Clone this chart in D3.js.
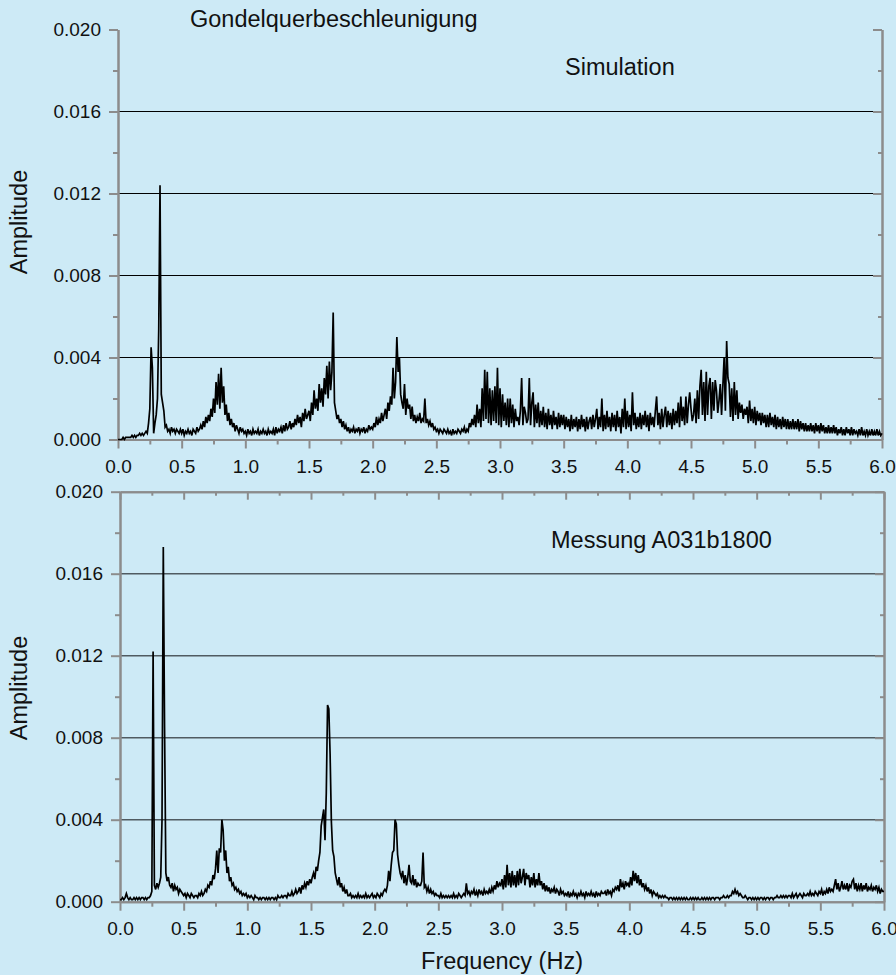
<!DOCTYPE html>
<html>
<head>
<meta charset="utf-8">
<script src="https://cdn.jsdelivr.net/npm/d3@7"></script>
<style>
  body { margin: 0; background: #cdeaf6; }
  svg { display: block; font-family: "Liberation Sans", Arial, sans-serif; }
</style>
</head>
<body>
<svg id="chart"></svg>
<script>
const width = 896;
const height = 975;

// spectra, amplitude in units of 1e-4, one value every 0.01 Hz from 0.00 to 6.00 Hz
const AMP_UNIT = 1e-4;
const freqStep = 0.01;

const simAmp = [
  0,0,0,0,1,0,1,1,1,1,
  1,2,1,2,1,2,2,3,2,3,
  2,3,4,3,8,15,45,35,3,8,
  12,20,54,124,22,18,14,6,7,4,
  5,3,6,4,5,3,5,4,3,5,
  3,5,2,4,3,5,3,4,2,5,
  4,3,6,4,5,7,5,9,6,11,
  8,12,9,15,11,20,13,28,17,32,
  15,35,18,26,12,17,9,13,7,10,
  6,8,4,7,5,3,6,4,5,3,
  4,2,5,3,4,2,5,3,4,3,
  5,2,4,3,5,3,4,2,5,3,
  4,3,5,2,6,3,5,4,6,3,
  7,4,8,5,6,9,5,8,6,10,
  7,12,8,11,6,13,9,15,10,12,
  14,9,18,12,24,15,20,14,27,18,
  25,16,30,22,36,20,38,24,33,62,
  18,14,10,12,8,10,6,9,5,7,
  4,6,3,5,4,6,3,5,4,6,
  3,5,4,6,3,5,4,7,5,6,
  5,8,6,11,7,10,8,13,9,12,
  15,10,18,14,21,17,35,20,28,50,
  33,40,22,18,15,27,12,20,15,17,
  10,16,9,12,8,11,9,13,8,10,
  9,20,8,10,7,9,6,8,5,6,
  4,5,3,5,4,3,5,4,3,5,
  3,4,2,5,3,4,3,5,4,3,
  5,4,6,3,5,4,8,6,10,7,
  12,6,17,8,15,6,25,9,34,10,
  33,8,25,7,24,9,26,8,35,7,
  25,6,22,9,18,7,20,6,20,8,
  17,6,15,9,11,7,14,30,7,16,
  13,8,10,30,7,18,23,6,17,8,
  18,6,14,7,16,6,13,5,15,7,
  12,5,14,7,11,5,13,6,12,7,
  12,5,11,6,10,4,12,5,10,6,
  11,4,10,5,12,6,10,4,11,5,
  9,11,5,12,6,10,15,5,11,6,
  20,4,12,5,14,6,11,4,13,6,
  12,4,14,6,11,3,15,6,20,5,
  14,6,12,4,23,7,13,5,11,6,
  13,5,12,7,14,6,12,4,13,7,
  11,6,14,21,7,13,5,15,6,12,
  16,6,14,7,13,5,15,7,14,8,
  18,6,21,9,16,7,21,8,17,23,
  15,9,12,20,8,24,10,26,34,12,
  28,9,33,12,26,30,10,28,14,29,
  24,13,19,27,12,26,40,14,48,30,
  27,11,25,9,28,12,24,10,18,13,
  17,10,15,12,16,8,19,9,15,8,
  16,7,14,9,13,7,13,8,12,6,
  12,6,13,7,11,6,12,5,11,6,
  10,5,11,6,10,5,10,5,9,5,
  10,5,9,5,10,4,9,5,8,4,
  8,4,7,4,8,4,7,3,8,4,
  7,3,8,4,7,3,6,3,7,3,
  6,3,7,3,6,2,5,3,6,2,
  5,2,6,3,5,2,6,2,5,3,
  4,2,5,2,6,2,4,2,5,2,
  4,2,5,2,4,2,5,2,4,2,
  3
];

const measAmp = [
  1,1,2,1,2,4,2,1,2,1,
  1,2,1,2,1,2,1,2,2,1,
  2,1,2,2,3,5,122,8,6,9,
  7,9,12,40,173,85,14,10,12,8,
  7,9,5,8,6,7,4,6,5,4,
  3,4,2,4,3,2,4,3,2,3,
  3,2,4,3,5,3,4,6,5,8,
  7,10,8,13,11,16,25,14,26,24,
  40,35,20,25,14,17,10,12,8,9,
  6,7,5,6,4,5,3,4,3,4,
  2,3,2,3,2,1,3,2,2,1,
  2,1,2,2,1,2,1,2,1,2,
  2,1,2,1,3,2,2,3,2,3,
  3,2,4,3,3,5,3,4,6,4,
  5,7,4,8,6,9,7,10,8,11,
  9,12,14,11,17,15,20,24,37,41,
  45,30,53,96,94,72,39,25,22,14,
  11,8,12,7,9,5,7,4,6,3,
  3,4,2,3,2,3,2,4,2,3,
  2,3,2,4,2,3,2,3,4,2,
  3,2,4,3,2,4,3,5,6,5,
  8,15,10,18,24,25,40,38,23,18,
  14,12,15,9,13,8,12,18,10,9,
  13,8,11,7,9,8,8,10,24,7,
  8,5,7,4,6,4,5,3,4,3,
  3,2,4,2,3,2,3,2,3,2,
  3,2,4,2,3,2,4,3,2,3,
  4,3,9,4,5,3,5,4,6,3,
  5,3,6,4,5,3,6,4,5,4,
  6,4,7,5,8,6,10,7,9,8,
  11,6,13,7,18,8,14,7,15,8,
  13,7,15,8,16,9,12,16,8,14,
  11,13,7,12,8,14,7,11,8,14,
  8,10,6,9,5,8,5,7,4,6,
  5,7,4,6,5,3,6,4,5,3,
  4,3,5,2,4,3,5,3,4,2,
  4,3,5,3,4,2,5,3,4,3,
  5,3,4,2,5,3,4,3,5,4,
  4,5,3,6,4,5,3,6,5,7,
  6,8,5,11,7,9,6,10,8,9,
  7,12,8,15,10,14,9,13,8,11,
  7,9,6,8,5,7,4,6,3,5,
  4,3,4,2,3,2,3,2,3,2,
  2,1,2,2,1,2,1,2,1,2,
  1,2,1,2,1,2,1,1,2,1,
  2,1,2,1,2,1,1,2,1,2,
  1,2,1,2,1,2,2,1,2,2,
  2,1,2,2,3,2,2,3,2,3,
  3,5,4,6,4,5,3,4,3,2,
  2,3,2,1,2,2,1,2,1,2,
  1,2,1,2,2,1,2,1,2,2,
  1,2,2,1,2,2,3,2,2,3,
  2,3,2,3,2,3,3,2,4,2,
  3,4,2,3,4,3,2,4,3,3,
  4,3,5,3,4,3,5,4,3,5,
  4,6,3,5,4,6,4,7,5,6,
  5,8,11,6,9,5,7,10,6,8,
  6,9,5,8,7,10,11,6,9,5,
  8,6,9,5,8,6,9,5,7,6,
  8,5,7,6,8,5,7,4,6,5,
  5
];

const yMajor = [0, 0.004, 0.008, 0.012, 0.016, 0.020];
const yMinor = [0.002, 0.006, 0.010, 0.014, 0.018];
const yGrid = [0.004, 0.008, 0.012, 0.016];
const xMajor = [0, 0.5, 1.0, 1.5, 2.0, 2.5, 3.0, 3.5, 4.0, 4.5, 5.0, 5.5, 6.0];
const xMinor = [0.25, 0.75, 1.25, 1.75, 2.25, 2.75, 3.25, 3.75, 4.25, 4.75, 5.25, 5.75];

const axisColor = "#8c8c8c";

const svg = d3.select("#chart")
  .attr("width", width)
  .attr("height", height);

function styleAxis(sel) {
  sel.select(".domain").attr("stroke", axisColor).attr("stroke-width", 2);
  sel.selectAll(".tick line").attr("stroke", axisColor).attr("stroke-width", 2);
  sel.selectAll(".tick text").attr("fill", "#111").attr("font-size", 19);
}

function drawPanel(cfg) {
  const x = d3.scaleLinear([0, 6], [cfg.left, cfg.right]);
  const y = d3.scaleLinear([0, 0.02], [cfg.bottom, cfg.top]);
  const g = svg.append("g");

  // grid lines
  g.selectAll("line.grid")
    .data(yGrid)
    .join("line")
    .attr("class", "grid")
    .attr("x1", cfg.left)
    .attr("x2", cfg.right)
    .attr("y1", d => y(d))
    .attr("y2", d => y(d))
    .attr("stroke", cfg.gridColor)
    .attr("stroke-width", cfg.gridWidth);

  // left axis
  g.append("g")
    .attr("transform", `translate(${cfg.left},0)`)
    .call(d3.axisLeft(y).tickValues(yMajor).tickSize(9).tickSizeOuter(0)
      .tickPadding(8).tickFormat(d3.format(".3f")))
    .call(styleAxis);
  g.append("g")
    .attr("transform", `translate(${cfg.left},0)`)
    .call(d3.axisLeft(y).tickValues(yMinor).tickSize(5).tickSizeOuter(0).tickFormat(""))
    .call(styleAxis);

  // right axis, ticks inward
  g.append("g")
    .attr("transform", `translate(${cfg.right},0)`)
    .call(d3.axisLeft(y).tickValues(yMajor).tickSize(9).tickSizeOuter(0).tickFormat(""))
    .call(styleAxis);
  g.append("g")
    .attr("transform", `translate(${cfg.right},0)`)
    .call(d3.axisLeft(y).tickValues(yMinor).tickSize(4).tickSizeOuter(0).tickFormat(""))
    .call(styleAxis);

  // top axis (only the lower panel), ticks inward
  if (cfg.topAxis) {
    g.append("g")
      .attr("transform", `translate(0,${cfg.top})`)
      .call(d3.axisBottom(x).tickValues(xMajor).tickSize(8).tickSizeOuter(0).tickFormat(""))
      .call(styleAxis);
    g.append("g")
      .attr("transform", `translate(0,${cfg.top})`)
      .call(d3.axisBottom(x).tickValues(xMinor).tickSize(4).tickSizeOuter(0).tickFormat(""))
      .call(styleAxis);
  }

  // bottom axis
  g.append("g")
    .attr("transform", `translate(0,${cfg.bottom})`)
    .call(d3.axisBottom(x).tickValues(xMajor).tickSize(9).tickSizeOuter(0)
      .tickPadding(11).tickFormat(d3.format(".1f")))
    .call(styleAxis);
  g.append("g")
    .attr("transform", `translate(0,${cfg.bottom})`)
    .call(d3.axisBottom(x).tickValues(xMinor).tickSize(5).tickSizeOuter(0).tickFormat(""))
    .call(styleAxis);

  // spectrum
  const line = d3.line()
    .x((d, i) => x(i * freqStep))
    .y(d => y(d * AMP_UNIT));
  g.append("path")
    .datum(cfg.values)
    .attr("d", line)
    .attr("fill", "none")
    .attr("stroke", "#000")
    .attr("stroke-width", 1.7)
    .attr("stroke-linejoin", "miter");

  // y axis title
  g.append("text")
    .attr("transform", `translate(27,${cfg.labelY}) rotate(-90)`)
    .attr("text-anchor", "middle")
    .attr("font-size", 23.5)
    .attr("fill", "#111")
    .text("Amplitude");

  g.append("text")
    .attr("x", cfg.noteX)
    .attr("y", cfg.noteY)
    .attr("font-size", 23.5)
    .attr("fill", "#111")
    .text(cfg.note);
}

drawPanel({
  values: simAmp,
  left: 118, right: 882, top: 29.5, bottom: 439.5,
  gridColor: "#000", gridWidth: 1,
  topAxis: false,
  labelY: 222,
  note: "Simulation", noteX: 565, noteY: 75
});

drawPanel({
  values: measAmp,
  left: 120, right: 884, top: 491.7, bottom: 901.7,
  gridColor: "#505b61", gridWidth: 1.5,
  topAxis: true,
  labelY: 688,
  note: "Messung A031b1800", noteX: 551, noteY: 548
});

svg.append("text")
  .attr("x", 190)
  .attr("y", 27)
  .attr("font-size", 23.5)
  .attr("fill", "#111")
  .text("Gondelquerbeschleunigung");

svg.append("text")
  .attr("x", 502)
  .attr("y", 969)
  .attr("text-anchor", "middle")
  .attr("font-size", 23.5)
  .attr("fill", "#111")
  .text("Frequency (Hz)");
</script>
</body>
</html>
